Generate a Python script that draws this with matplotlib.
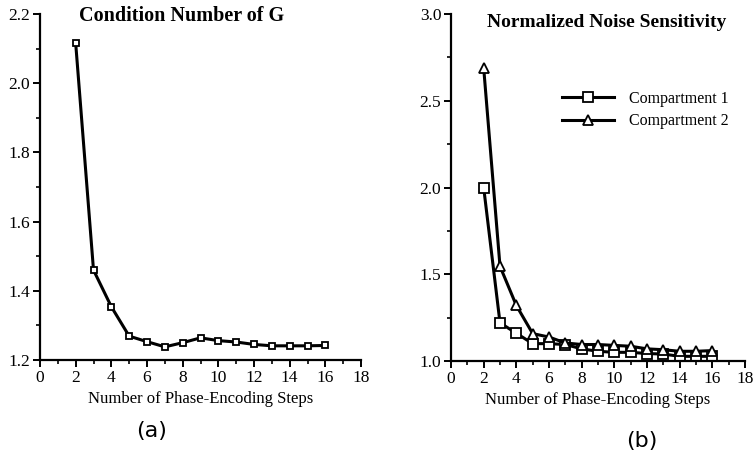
import numpy as np
import matplotlib
matplotlib.use('Agg')
import matplotlib.pyplot as plt
from matplotlib.ticker import MultipleLocator

# ---------- data ----------
steps = [2, 3, 4, 5, 6, 7, 8, 9, 10, 11, 12, 13, 14, 15, 16]
cond_g = [2.116, 1.46, 1.354, 1.269, 1.253, 1.238, 1.250, 1.264, 1.256,
          1.252, 1.245, 1.241, 1.241, 1.241, 1.242]
comp1 = [2.00, 1.22, 1.16, 1.10, 1.10, 1.095, 1.07, 1.056, 1.05, 1.05,
         1.043, 1.04, 1.027, 1.027, 1.027]
comp2 = [2.69, 1.546, 1.32, 1.158, 1.138, 1.104, 1.095, 1.095, 1.09,
         1.085, 1.07, 1.065, 1.056, 1.056, 1.06]

titles = ['Condition Number of G', 'Normalized Noise Sensitivity']
legend_labels = ['Compartment 1', 'Compartment 2']
xlabel = 'Number of Phase-Encoding Steps'
panel_tags = ['(a)', '(b)']

SERIF = 'Liberation Serif'
W, H = 756, 458


def style_axes(ax, ymin, ymax, ymajor, yminor):
    ax.set_xlim(0, 18)
    ax.set_ylim(ymin, ymax)
    ax.xaxis.set_major_locator(MultipleLocator(2))
    ax.xaxis.set_minor_locator(MultipleLocator(1))
    ax.yaxis.set_major_locator(MultipleLocator(ymajor))
    ax.yaxis.set_minor_locator(MultipleLocator(yminor))
    for s in ['top', 'right']:
        ax.spines[s].set_visible(False)
    for s in ['left', 'bottom']:
        ax.spines[s].set_linewidth(1.6)
    ax.tick_params(which='major', direction='out', length=5, width=1.4,
                   labelsize=12.5, pad=2)
    ax.tick_params(which='minor', direction='out', length=3, width=1.2)
    for lab in ax.get_xticklabels() + ax.get_yticklabels():
        lab.set_fontfamily(SERIF)
    ax.set_xlabel(xlabel, fontfamily=SERIF, fontsize=12, labelpad=4)


fig = plt.figure(figsize=(W / 100, H / 100), dpi=100)

# panel (a)
ax1 = fig.add_axes([40 / W, 1 - 360 / H, 321 / W, 346 / H])
ax1.plot(steps, cond_g, color='black', lw=2.2, marker='s', ms=4.5,
         mfc='white', mec='black', mew=1.3)
style_axes(ax1, 1.2, 2.2, 0.2, 0.1)
ax1.yaxis.set_major_formatter(plt.FormatStrFormatter('%.1f'))
ax1.text(0.44, 0.995, titles[0], transform=ax1.transAxes, ha='center',
         va='center', fontfamily=SERIF, fontweight='bold', fontsize=14.5)

# panel (b)
ax2 = fig.add_axes([451 / W, 1 - 361 / H, 294 / W, 347 / H])
ax2.plot(steps, comp1, color='black', lw=2.2, marker='s', ms=6.5,
         mfc='white', mec='black', mew=1.3, label=legend_labels[0])
ax2.plot(steps, comp2, color='black', lw=2.2, marker='^', ms=6.5,
         mfc='white', mec='black', mew=1.3, label=legend_labels[1])
style_axes(ax2, 1.0, 3.0, 0.5, 0.25)
ax2.yaxis.set_major_formatter(plt.FormatStrFormatter('%.1f'))
ax2.text(0.53, 0.975, titles[1], transform=ax2.transAxes, ha='center',
         va='center', fontfamily=SERIF, fontweight='bold', fontsize=14)
leg = ax2.legend(loc='upper left', bbox_to_anchor=(0.33, 0.82),
                 frameon=False, prop={'family': SERIF, 'size': 11.5},
                 handlelength=3.2, handletextpad=1.0, labelspacing=0.4)

# panel tags
fig.text(152 / W, 1 - 431 / H, panel_tags[0], ha='center', va='center',
         fontsize=16, fontfamily='DejaVu Sans')
fig.text(642 / W, 1 - 441 / H, panel_tags[1], ha='center', va='center',
         fontsize=16, fontfamily='DejaVu Sans')

fig.savefig('out.png', dpi=100)
